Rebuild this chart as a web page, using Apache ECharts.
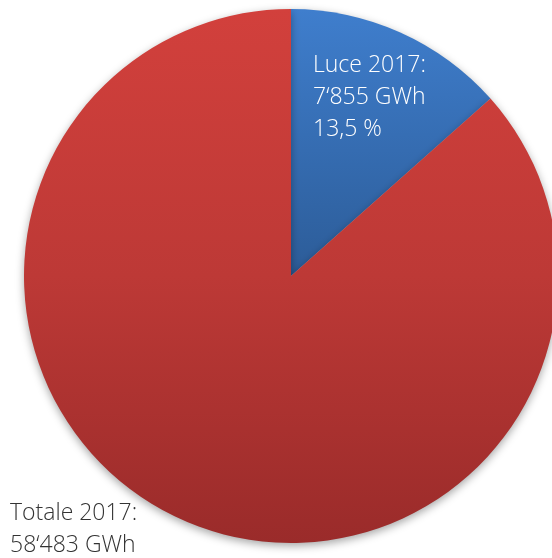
<!DOCTYPE html>
<html>
<head>
<meta charset="utf-8">
<script src="https://cdn.jsdelivr.net/npm/echarts@6/dist/echarts.min.js"></script>
<style>
html,body{margin:0;padding:0;background:#fff;}
#c{width:552px;height:558px;}
</style>
</head>
<body>
<div id="c"></div>
<script>
const categories = ['Luce 2017', 'Altro'];
const totalLabel = 'Totale 2017';
const totalGWh = 58483;
const luceGWh = 7855;
const lucePercentText = '13,5 %';
const values = [luceGWh, totalGWh - luceGWh];

function fmt(n) {
  return String(n).replace(/\B(?=(\d{3})+(?!\d))/g, '\u2018');
}

const chart = echarts.init(document.getElementById('c'));
const font = '"Open Sans", "Liberation Sans", sans-serif';
chart.setOption({
  animation: false,
  series: [{
    type: 'pie',
    center: [291, 276],
    radius: 267,
    startAngle: 90,
    clockwise: true,
    silent: true,
    label: { show: false },
    labelLine: { show: false },
    itemStyle: {
      shadowBlur: 8,
      shadowOffsetY: 3,
      shadowColor: 'rgba(0,0,0,0.35)'
    },
    data: [
      {
        name: categories[0], value: values[0],
        itemStyle: {
          color: new echarts.graphic.LinearGradient(0, 0, 0, 1, [
            { offset: 0, color: '#3f7ecd' },
            { offset: 1, color: '#2c5c98' }
          ])
        }
      },
      {
        name: categories[1], value: values[1],
        itemStyle: {
          color: new echarts.graphic.LinearGradient(0, 0, 0, 1, [
            { offset: 0, color: '#d2403c' },
            { offset: 0.5, color: '#bd3936' },
            { offset: 1, color: '#9a2b2a' }
          ])
        }
      }
    ]
  }],
  graphic: [
    {
      type: 'text', left: 313, top: 49, z: 100,
      style: {
        text: categories[0] + ':\n' + fmt(luceGWh) + ' GWh\n' + lucePercentText,
        fill: '#ffffff', font: '300 23px ' + font, lineHeight: 32
      }
    },
    {
      type: 'text', left: 10, top: 497, z: 100,
      style: {
        text: totalLabel + ':\n' + fmt(totalGWh) + ' GWh',
        fill: '#333333', font: '300 23px ' + font, lineHeight: 32
      }
    }
  ]
});
</script>
</body>
</html>
